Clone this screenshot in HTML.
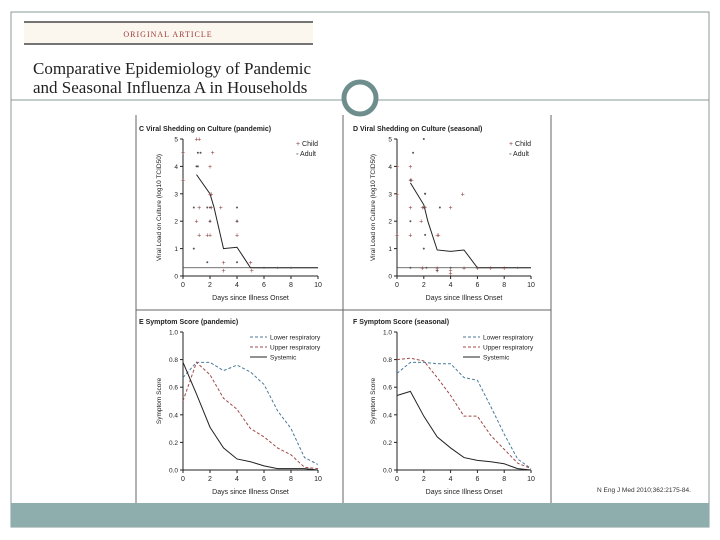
<!DOCTYPE html>
<html><head><meta charset="utf-8"><style>
body{margin:0;width:720px;height:540px;background:#fff;overflow:hidden;font-family:"Liberation Sans",sans-serif}
svg{position:absolute;left:0;top:0}
</style></head><body>
<svg id="s" width="720" height="540" viewBox="0 0 720 540">
<rect x="11" y="12" width="698" height="515" fill="#fff" stroke="#8a9a9a" stroke-width="1"/>
<rect x="11" y="503" width="698" height="24" fill="#8eaeae"/>
<rect x="24" y="23" width="289" height="20" fill="#fbf7ef"/>
<line x1="24" y1="22" x2="313" y2="22" stroke="#222" stroke-width="1.3"/>
<line x1="24" y1="44" x2="313" y2="44" stroke="#222" stroke-width="1.3"/>
<text x="168" y="37" text-anchor="middle" font-family="Liberation Serif,serif" font-size="8" fill="#a03a3a" letter-spacing="1">ORIGINAL ARTICLE</text>
<text x="33" y="74" font-family="Liberation Serif,serif" font-size="17" fill="#222">Comparative Epidemiology of Pandemic</text>
<text x="33" y="93" font-family="Liberation Serif,serif" font-size="17" fill="#222">and Seasonal Influenza A in Households</text>
<line x1="11" y1="100" x2="342" y2="100" stroke="#8a9a9a" stroke-width="1"/>
<line x1="378" y1="100" x2="709" y2="100" stroke="#8a9a9a" stroke-width="1"/>
<circle cx="360" cy="98" r="16" fill="#fff" stroke="#6e8e8e" stroke-width="5"/>
<line x1="136" y1="115" x2="136" y2="503" stroke="#666" stroke-width="1"/>
<line x1="343" y1="115" x2="343" y2="503" stroke="#666" stroke-width="1"/>
<line x1="551" y1="115" x2="551" y2="503" stroke="#666" stroke-width="1"/>
<line x1="136" y1="310" x2="551" y2="310" stroke="#666" stroke-width="1"/>
<text x="597" y="492" font-size="6.5" fill="#333">N Eng J Med 2010;362:2175-84.</text>
<g id="charts"></g>
</svg>
<script>
// Panel C (pandemic) scatter data
const cChildX=[1,1.2,0,2.2,2,0,1.2,2,2.1,2.8,1.2,2.1,2,4,1,2,4,3,5,5.1,1.8,3];
const cChildY=[5,5,4.5,4.5,4,3.5,2.5,3,3,2.5,1.5,2.5,1.5,1.5,2,2,2,0.5,0.5,0.2,1.5,0.2];
const cAdultX=[1,1.1,1.3,0.8,1.1,0.8,1.8,2,4,2,4,1.8,4,6,7,8];
const cAdultY=[4,4.5,4.5,2.5,4,1,2.5,2.5,2.5,2,2,0.5,0.5,0.3,0.3,0.3];
const cMedX=[1,2,2.3,3,4,4.6,5,10];
const cMedY=[3.7,3.0,2.5,1.0,1.05,0.6,0.3,0.3];
// Panel D (seasonal)
const dChildX=[0,1,0,1,1.1,0,1,1.9,2.1,3,4,4.9,1,3.1,3,1.8,4,4,5,6,7,8,1.9,3];
const dChildY=[4,4,3,3.5,3.5,1.5,1.5,2.5,2.5,1.5,2.5,3,2.5,1.5,0.2,2,0.2,0.1,0.3,0.3,0.3,0.3,0.3,0.3];
const dAdultX=[1.2,2,2.1,2,3.2,2.1,2,1,1,2.1,2.2,3,4,9,1,6];
const dAdultY=[4.5,5,3,2.5,2.5,1.5,1,2,3.5,3,0.3,0.2,0.3,0.3,0.3,0.3];
const dMedX=[1,2,2.3,3,4,5,6,10];
const dMedY=[3.4,2.6,2.0,0.95,0.9,0.95,0.3,0.3];
// Panels E/F symptom scores, days 0..10
const days=[0,1,2,3,4,5,6,7,8,9,10];
const eLower=[0.67,0.78,0.78,0.72,0.76,0.71,0.62,0.43,0.30,0.09,0.04];
const eUpper=[0.50,0.78,0.69,0.52,0.44,0.30,0.24,0.16,0.11,0.02,0.01];
const eSys=[0.78,0.55,0.31,0.16,0.08,0.06,0.03,0.01,0.01,0.01,0.00];
const fLower=[0.70,0.78,0.78,0.77,0.77,0.67,0.65,0.46,0.26,0.08,0.01];
const fUpper=[0.80,0.81,0.79,0.67,0.54,0.39,0.39,0.25,0.15,0.05,0.01];
const fSys=[0.54,0.57,0.39,0.24,0.16,0.09,0.07,0.06,0.045,0.01,0.00];
const xTicks=[0,2,4,6,8,10];
const vTicks=[0,1,2,3,4,5];
const sTicks=[0,0.2,0.4,0.6,0.8,1.0];

const NS='http://www.w3.org/2000/svg';
const root=document.getElementById('charts');
function mk(tag,attrs,parent,txt){const e=document.createElementNS(NS,tag);for(const k in attrs)e.setAttribute(k,attrs[k]);if(txt!==undefined)e.textContent=txt;(parent||root).appendChild(e);return e;}

function axes(g,x0,x1,y0,y1,yMax,yt,fmt,title,ytitle){
  const sx=v=>x0+(x1-x0)*v/10, sy=v=>y0-(y0-y1)*v/yMax;
  mk('line',{x1:x0,y1:y0+1,x2:x0,y2:y1,stroke:'#222','stroke-width':1},g);
  mk('line',{x1:x0,y1:y0,x2:x1,y2:y0,stroke:'#222','stroke-width':1},g);
  xTicks.forEach(t=>{mk('line',{x1:sx(t),y1:y0,x2:sx(t),y2:y0+3,stroke:'#222'},g);
    const l=mk('text',{x:sx(t),y:y0+11,'text-anchor':'middle','font-size':7,fill:'#222'},g,t);
    });
  yt.forEach(t=>{mk('line',{x1:x0-3,y1:sy(t),x2:x0,y2:sy(t),stroke:'#222'},g);
    const l=mk('text',{x:x0-5,y:sy(t)+2.5,'text-anchor':'end','font-size':6.5,fill:'#222'},g,fmt(t));
    });
  const xt=mk('text',{x:(x0+x1)/2,y:y0+24,'text-anchor':'middle','font-size':7,fill:'#222'},g,'Days since Illness Onset');
  
  const yx=x0-22,yy=(y0+y1)/2;
  const ytl=mk('text',{x:yx,y:yy,'text-anchor':'middle','font-size':6.5,fill:'#222',transform:`rotate(-90 ${yx} ${yy})`},g,ytitle);
  
  const tt=mk('text',{x:x0-44,y:y1-8,'font-size':7,fill:'#222','font-weight':'bold'},g,title);
  
  return {sx,sy};
}
function poly(g,xs,ys,s,attrs,name){
  const p=mk('polyline',Object.assign({points:xs.map((x,i)=>s.sx(x)+','+s.sy(ys[i])).join(' '),fill:'none'},attrs),g);
  
}
function viral(id,x0,x1,title,cx,cy,ax,ay,mx,my,lx){
  const g=mk('g',{});
  
  const s=axes(g,x0,x1,276,139,5,vTicks,t=>t,title,'Viral Load on Culture (log10 TCID50)');
  poly(g,[0,10],[0.3,0.3],s,{stroke:'#444','stroke-width':0.8},'detection-limit-line');
  poly(g,mx,my,s,{stroke:'#222','stroke-width':1},'median-line');
  cx.forEach((x,i)=>{const t=mk('text',{x:s.sx(x),y:s.sy(cy[i])+2.5,'text-anchor':'middle','font-size':7,fill:'#8b3a3a'},g,'+');
    });
  ax.forEach((x,i)=>{const c=mk('circle',{cx:s.sx(x),cy:s.sy(ay[i]),r:1,fill:'#555'},g);
    });
  const l1=mk('text',{x:lx,y:146,'font-size':7,fill:'#222'},g);l1.innerHTML='<tspan fill="#8b3a3a">+</tspan> Child';
  
  const l2=mk('text',{x:lx,y:156,'font-size':7,fill:'#222'},g,'◦ Adult');
  
}
function symptom(id,x0,x1,title,lo,up,sy_){
  const g=mk('g',{});
  
  const s=axes(g,x0,x1,470,332,1,sTicks,t=>t.toFixed(1),title,'Symptom Score');
  poly(g,days,lo,s,{stroke:'#4a7a9a','stroke-width':1,'stroke-dasharray':'3,2'},'lower-respiratory-line');
  poly(g,days,up,s,{stroke:'#a04a4a','stroke-width':1,'stroke-dasharray':'3,2'},'upper-respiratory-line');
  poly(g,days,sy_,s,{stroke:'#222','stroke-width':1},'systemic-line');
  const lx=x1-68;
  [['Lower respiratory','#4a7a9a','3,2'],['Upper respiratory','#a04a4a','3,2'],['Systemic','#222','']].forEach((L,i)=>{
    const y=337+i*10;
    mk('line',{x1:lx,y1:y,x2:lx+17,y2:y,stroke:L[1],'stroke-dasharray':L[2]},g);
    const t=mk('text',{x:lx+20,y:y+2.5,'font-size':6.5,fill:'#222'},g,L[0]);
    
  });
}
viral('chart-c',183,318,'C  Viral Shedding on Culture (pandemic)',cChildX,cChildY,cAdultX,cAdultY,cMedX,cMedY,296);
viral('chart-d',397,531,'D  Viral Shedding on Culture (seasonal)',dChildX,dChildY,dAdultX,dAdultY,dMedX,dMedY,509);
symptom('chart-e',183,318,'E  Symptom Score (pandemic)',eLower,eUpper,eSys);
symptom('chart-f',397,531,'F  Symptom Score (seasonal)',fLower,fUpper,fSys);
</script>
</body></html>
